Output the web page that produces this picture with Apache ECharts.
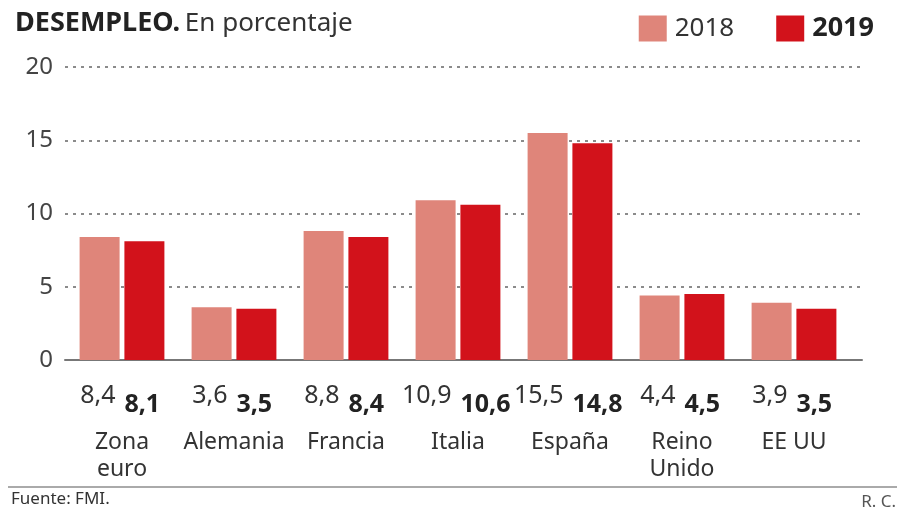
<!DOCTYPE html>
<html lang="es">
<head>
    <meta charset="UTF-8">
    <title>Desempleo</title>
    <script src="https://cdn.jsdelivr.net/npm/echarts@6/dist/echarts.min.js"></script>
    <style>
        html, body { margin: 0; padding: 0; background: #fff; }
        #chart1 { width: 899px; height: 514px; }
    </style>
</head>
<body>
    <div id="chart1"></div>
<script type="text/javascript">
    // datos
    var categorias = ['Zona\neuro', 'Alemania', 'Francia', 'Italia', 'España', 'Reino\nUnido', 'EE UU'];
    var paro2018 = [8.4, 3.6, 8.8, 10.9, 15.5, 4.4, 3.9];
    var paro2019 = [8.1, 3.5, 8.4, 10.6, 14.8, 4.5, 3.5];
    var ticksY = [0, 5, 10, 15, 20];

    var FONT = 'Noto Sans';
    var coma = function (p) { return String(p.value).replace('.', ','); };

    var chart = echarts.init(document.getElementById('chart1'));

    var option = {
        animation: false,
        textStyle: { fontFamily: FONT },
        title: {
            left: 10, top: 5,
            text: '{b|DESEMPLEO.} {r|En porcentaje}',
            textStyle: {
                fontWeight: 'normal',
                rich: {
                    b: { fontFamily: FONT, fontSize: 27, fontWeight: 'bold', color: '#222' },
                    r: { fontFamily: FONT, fontSize: 26, fontWeight: 'normal', color: '#333' }
                }
            }
        },
        legend: {
            right: 20, top: 10,
            itemWidth: 28, itemHeight: 26, itemGap: 42,
            icon: 'rect',
            data: ['2018', '2019'],
            formatter: function (n) { return n === '2019' ? '{b|' + n + '}' : '{r|' + n + '}'; },
            textStyle: {
                rich: {
                    b: { fontFamily: FONT, fontSize: 27, fontWeight: 'bold', color: '#222', padding: [0, 0, 0, 3] },
                    r: { fontFamily: FONT, fontSize: 26, color: '#333', padding: [0, 0, 0, 3] }
                }
            }
        },
        grid: [
            { left: 66, right: 49, top: 67, bottom: 154 },
            { left: 65, right: 37, top: 67, bottom: 154 }
        ],
        xAxis: [
            {
                type: 'category', gridIndex: 0, data: categorias,
                axisLine: { show: false }, axisTick: { show: false },
                axisLabel: { interval: 0, margin: 69, fontSize: 23, lineHeight: 27, color: '#333', fontFamily: FONT }
            },
            {
                type: 'value', gridIndex: 1, min: 0, max: 1,
                axisLine: { show: true, lineStyle: { color: '#777', width: 2 } },
                axisTick: { show: false }, axisLabel: { show: false }, splitLine: { show: false }
            }
        ],
        yAxis: [
            { type: 'value', gridIndex: 0, min: 0, max: 20, interval: 5, show: false, splitLine: { show: false } },
            {
                type: 'value', gridIndex: 1, min: ticksY[0], max: ticksY[ticksY.length - 1], interval: 5,
                axisLine: { show: false }, axisTick: { show: false },
                axisLabel: { margin: 12, fontSize: 24, color: '#444', fontFamily: FONT },
                splitLine: { lineStyle: { color: '#666', type: [3, 5], width: 1.5 } }
            }
        ],
        series: [
            {
                name: '2018', type: 'bar', xAxisIndex: 0, yAxisIndex: 0,
                data: paro2018, barWidth: 40, barGap: '12%',
                itemStyle: { color: '#df857a' },
                label: {
                    show: true, position: ['100%', '100%'], offset: [-4, 36],
                    align: 'right', verticalAlign: 'middle',
                    fontSize: 25, color: '#333', fontFamily: FONT, formatter: coma
                }
            },
            {
                name: '2019', type: 'bar', xAxisIndex: 0, yAxisIndex: 0,
                data: paro2019, barWidth: 40,
                itemStyle: { color: '#d2121b' },
                label: {
                    show: true, position: ['0%', '100%'], offset: [0, 45],
                    align: 'left', verticalAlign: 'middle',
                    fontSize: 25, fontWeight: 'bold', color: '#222', fontFamily: FONT, formatter: coma
                }
            }
        ],
        graphic: [
            { type: 'line', shape: { x1: 8, y1: 487, x2: 897, y2: 487 }, style: { stroke: '#aaa', lineWidth: 2 } },
            { type: 'text', left: 11, top: 491, style: { text: 'Fuente: FMI.', fontSize: 17, fontFamily: FONT, fill: '#333' } },
            { type: 'text', right: 3, top: 494, style: { text: 'R. C.', fontSize: 17, fontFamily: FONT, fill: '#555' } }
        ]
    };

    chart.setOption(option);
</script>
</body>
</html>
